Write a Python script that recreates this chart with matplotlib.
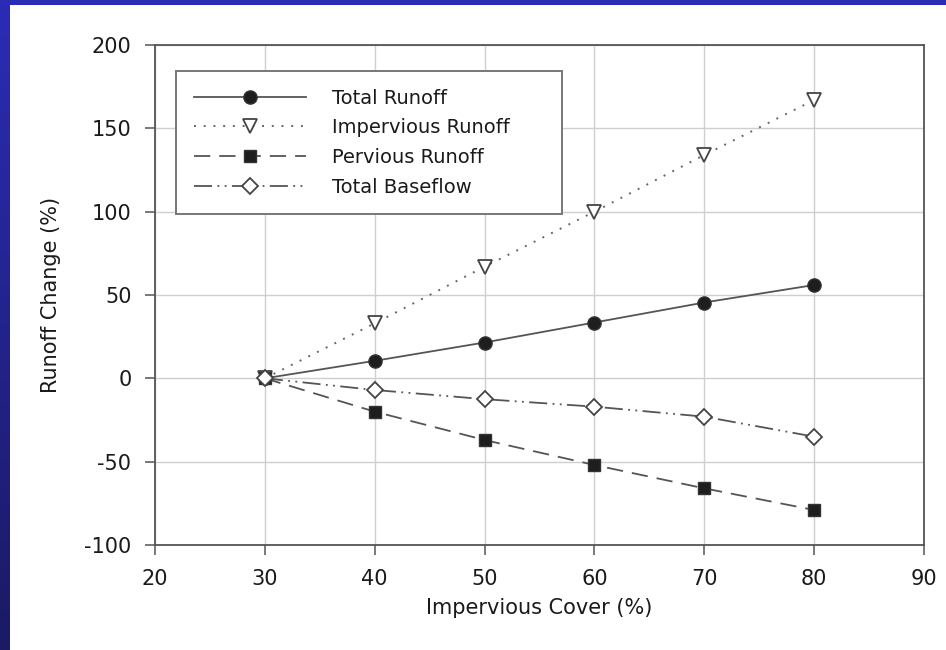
import numpy as np
import matplotlib
matplotlib.use("Agg")
import matplotlib.pyplot as plt
from matplotlib.patches import Rectangle

# ---- data ----
impervious_cover = [30, 40, 50, 60, 70, 80]
total_runoff = [0, 10.5, 21.5, 33.5, 45.5, 56]
impervious_runoff = [0, 33, 67, 100, 134, 167]
pervious_runoff = [0, -20, -37, -52, -66, -79]
total_baseflow = [0, -7, -12.5, -17, -23, -35]
series_labels = ["Total Runoff", "Impervious Runoff", "Pervious Runoff", "Total Baseflow"]
x_ticks = [20, 30, 40, 50, 60, 70, 80, 90]
y_ticks = [-100, -50, 0, 50, 100, 150, 200]

plt.rcParams['font.family'] = ['DejaVu Sans']
plt.rcParams['axes.unicode_minus'] = False

W, H = 946, 650
fig = plt.figure(figsize=(W / 100, H / 100), dpi=100)
fig.patch.set_facecolor('white')

# blue frame: top band and left gradient strip
fig.patches.append(Rectangle((0, 1 - 5 / H), 1, 5 / H, transform=fig.transFigure,
                             facecolor='#2b2cb6', edgecolor='none', zorder=0))
bg = fig.add_axes([0, 0, 9 / W, 1], zorder=-1)
top_c = np.array([0x2b, 0x2c, 0xb6]) / 255
bot_c = np.array([0x1b, 0x1a, 0x64]) / 255
t = np.linspace(0, 1, 256)[:, None]
grad = (top_c[None, :] * (1 - t) + bot_c[None, :] * t)[:, None, :]
bg.imshow(grad, aspect='auto', extent=[0, 1, 0, 1])
bg.set_axis_off()

ax = fig.add_axes([155 / W, 1 - 545 / H, (924 - 155) / W, 500 / H])
line_c = '#555555'

ax.plot(impervious_cover, total_runoff, color=line_c, lw=1.3, ls='-',
        marker='o', ms=9.5, mfc='#1e1e1e', mec='#333333', mew=1, label=series_labels[0], zorder=5)
ax.plot(impervious_cover, impervious_runoff, color='#666666', lw=1.4, ls=(0, (1, 4)),
        marker='v', ms=10, mfc='white', mec='#444444', mew=1.3, label=series_labels[1], zorder=5)
ax.plot(impervious_cover, pervious_runoff, color=line_c, lw=1.3, ls=(0, (9, 5)),
        marker='s', ms=8, mfc='#1e1e1e', mec='#333333', mew=1, label=series_labels[2], zorder=5)
ax.plot(impervious_cover, total_baseflow, color=line_c, lw=1.3, ls=(0, (10, 3, 1, 3, 1, 3)),
        marker='D', ms=8.5, mfc='white', mec='#444444', mew=1.3, label=series_labels[3], zorder=5)

ax.set_xlim(20, 90)
ax.set_ylim(-100, 200)
ax.set_xticks(x_ticks)
ax.set_yticks(y_ticks)
ax.grid(True, color='#cfcfcf', lw=1)
ax.set_axisbelow(True)
for s in ax.spines.values():
    s.set_color('#555555')
    s.set_linewidth(1.3)
ax.tick_params(direction='out', length=7, width=1.1, color='#555555',
               labelsize=15, pad=10, labelcolor='#1a1a1a')

ax.set_xlabel('Impervious Cover (%)', fontsize=15, color='#1a1a1a', labelpad=7)
ax.set_ylabel('Runoff Change (%)', fontsize=15, color='#1a1a1a', labelpad=17)

leg = ax.legend(loc='upper left',
                bbox_to_anchor=((176 - 155) / 769, 0, (562 - 176) / 769, (545 - 71) / 500),
                mode='expand', borderaxespad=0, fontsize=14, numpoints=1,
                handlelength=5.8, handletextpad=1.3, borderpad=0.9, labelspacing=0.55,
                fancybox=False, framealpha=1, edgecolor='#777777')
leg.get_frame().set_linewidth(1.4)
for txt in leg.get_texts():
    txt.set_color('#1a1a1a')

fig.savefig('out.png', dpi=100, facecolor=fig.get_facecolor())
